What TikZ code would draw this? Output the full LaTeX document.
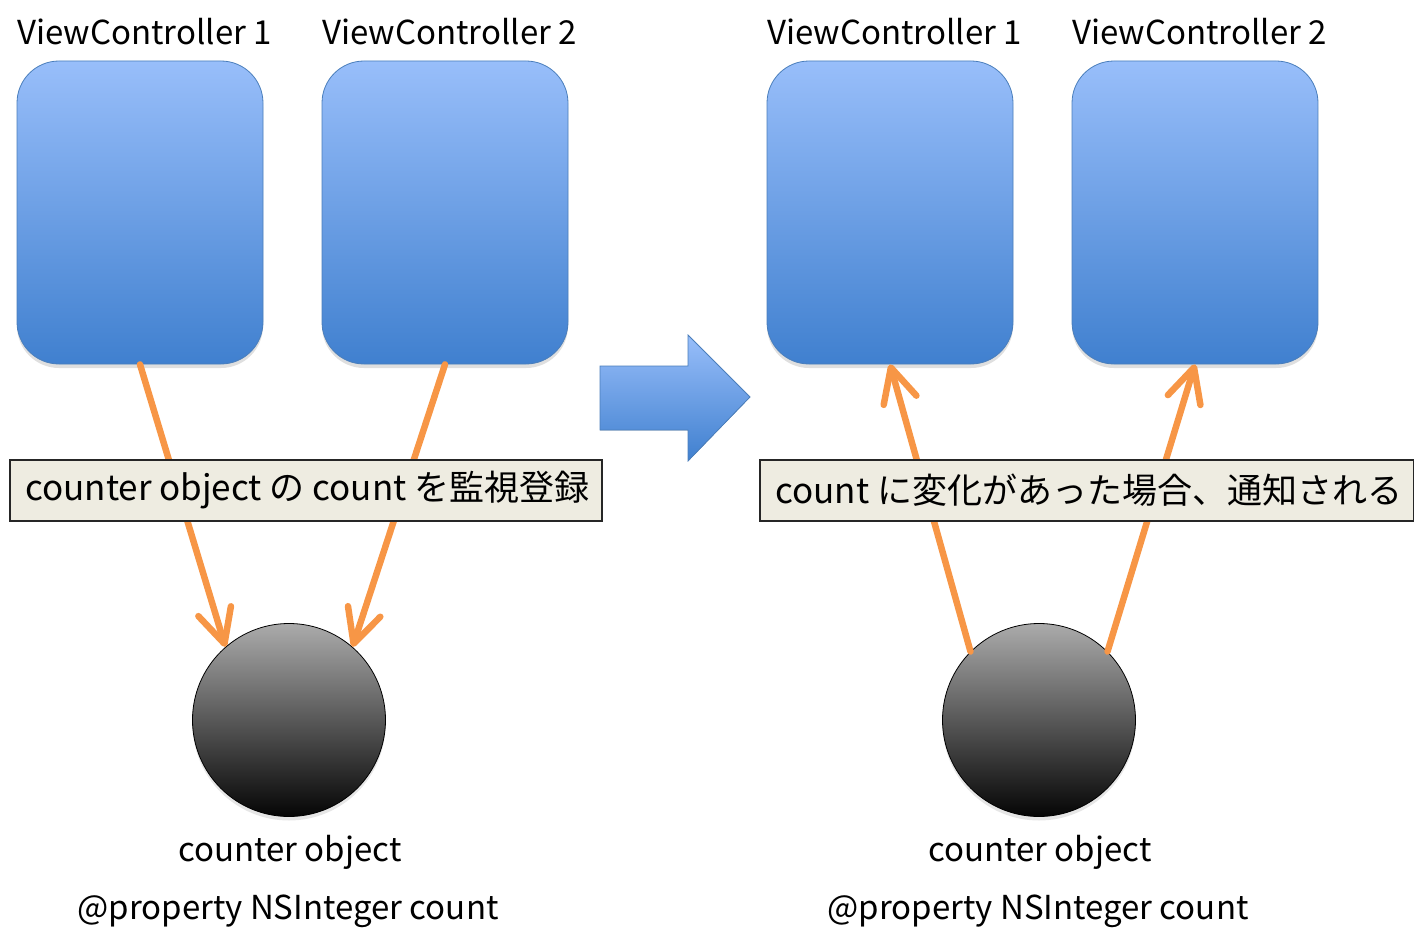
\documentclass[tikz,border=0pt]{standalone}
\usepackage{fontspec}
\setmainfont{Noto Sans CJK JP}
\usetikzlibrary{arrows.meta,shadows}
\definecolor{vctop}{HTML}{98BEFA}
\definecolor{vcbot}{HTML}{4080CF}
\definecolor{vcline}{HTML}{4A7EBB}
\definecolor{kvo}{HTML}{F79646}
\definecolor{note}{HTML}{EEECE1}
\begin{document}
\begin{tikzpicture}[x=1pt,y=-1pt,
    vc/.style={draw=vcline,line width=0.8pt,rounded corners=42pt,
      top color=vctop,bottom color=vcbot,minimum width=246pt,minimum height=303pt,
      inner sep=0pt,drop shadow={shadow xshift=0pt,shadow yshift=-4pt,opacity=0.25}},
    vctitle/.style={anchor=base west,inner sep=0pt,font=\fontsize{33}{38}\selectfont},
    obj/.style={circle,draw=black,line width=0.8pt,top color=black!33,bottom color=black!98,
      minimum size=193pt,inner sep=0pt,drop shadow={shadow xshift=0pt,shadow yshift=-4pt,opacity=0.2}},
    objtext/.style={inner sep=0pt,font=\fontsize{33}{38}\selectfont},
    kvoline/.style={draw=kvo,line width=6.5pt,line cap=round,
      -{Straight Barb[length=34pt,width=34pt,line width=6.5pt,round]}},
    notebox/.style={draw=black!85,line width=1.5pt,fill=note,anchor=north west,inner sep=0pt},
    notetext/.style={anchor=west,inner sep=0pt,font=\fontsize{35}{40}\selectfont},
  ]
  \useasboundingbox (0,0) rectangle (1414,939);
  % left: register
  \node[vctitle] (tA1) at (17,45) {ViewController 1};
  \node[vctitle] (tA2) at (322,45) {ViewController 2};
  \node[vc] (vcA1) at (140,212.5) {};
  \node[vc] (vcA2) at (445,212.5) {};
  \node[obj] (objA) at (289,720) {};
  \node[objtext] (nameA) at (290,852) {counter object};
  \node[objtext] (propA) at (288,911) {@property NSInteger count};
  \draw[kvoline] (vcA1.south) to (objA.131);
  \draw[kvoline] (vcA2.south) to (objA.49);
  \node[notebox,minimum width=592pt,minimum height=61pt] (noteA) at (9,459) {};
  \node[notetext] (textA) at (25,490) {counter object の count を監視登録};
  % big arrow
  \filldraw[draw=vcline,line width=0.8pt,top color=vctop,bottom color=vcbot]
    (600,366) -- (688,366) -- (688,335) -- (750,397) -- (688,461) -- (688,430) -- (600,430) -- cycle;
  % right: notify
  \node[vctitle] (tB1) at (767,45) {ViewController 1};
  \node[vctitle] (tB2) at (1072,45) {ViewController 2};
  \node[vc] (vcB1) at (890,212.5) {};
  \node[vc] (vcB2) at (1195,212.5) {};
  \node[obj] (objB) at (1039,720) {};
  \node[objtext] (nameB) at (1040,852) {counter object};
  \node[objtext] (propB) at (1038,911) {@property NSInteger count};
  \draw[kvoline] (objB.135) to (vcB1.south);
  \draw[kvoline] (objB.45) to (vcB2.south);
  \node[notebox,minimum width=654pt,minimum height=61pt] (noteB) at (759,459) {};
  \node[notetext] (textB) at (775,490) {count に変化があった場合、通知される};
\end{tikzpicture}
\end{document}
